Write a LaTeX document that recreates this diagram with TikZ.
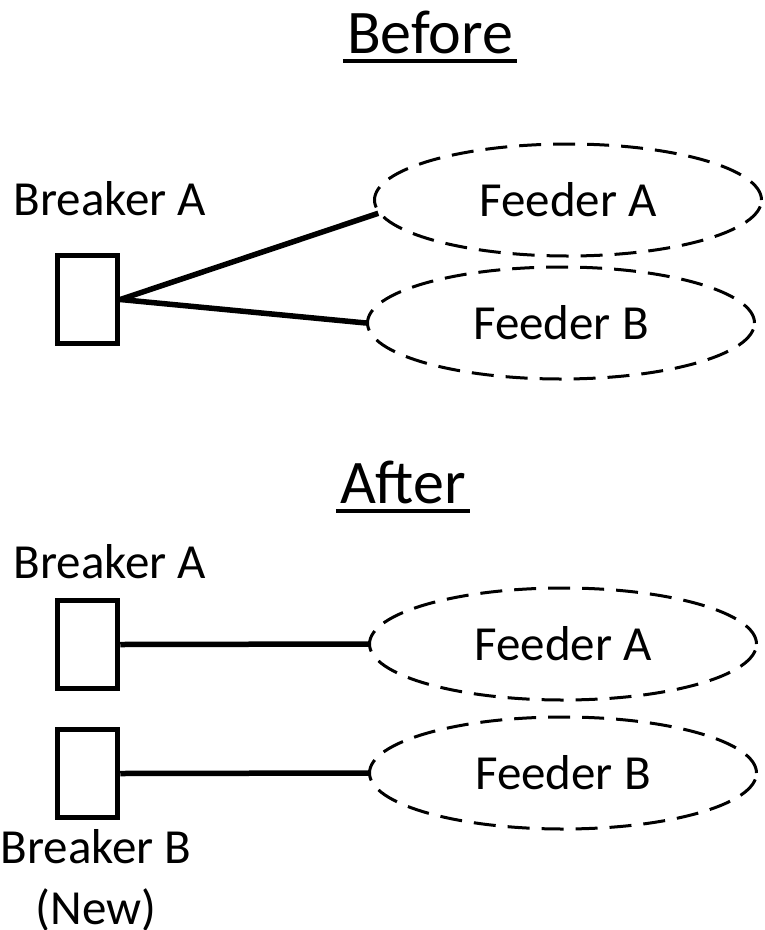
\documentclass[tikz,border=0pt]{standalone}
\usepackage{fontspec}
\setmainfont{Carlito}
\usetikzlibrary{shapes.geometric}

\begin{document}
\begin{tikzpicture}[x=1pt, y=-1pt]
  \tikzstyle{title} = [font=\fontsize{62}{74}\selectfont, inner sep=0pt, anchor=base]
  \tikzstyle{underl} = [line width=4pt]
  \tikzstyle{labeltext} = [font=\fontsize{49}{61}\selectfont, inner sep=0pt, anchor=base, align=center]
  \tikzstyle{breaker} = [draw, line width=5.5pt, minimum width=60pt, minimum height=88pt, inner sep=0pt]
  \tikzstyle{feeder} = [draw, ellipse, dash pattern=on 22pt off 12pt, line width=3pt,
  minimum width=387pt, minimum height=112pt, inner sep=0pt,
  font=\fontsize{49}{61}\selectfont]
  \tikzstyle{wire} = [line width=5.5pt]

  \useasboundingbox (0,0) rectangle (764,930);

% before
\node[title] (before) at (430,53) {Before};
\draw[underl] ([xshift=-4pt, yshift=-8pt]before.base west) -- ([xshift=4pt, yshift=-8pt]before.base east);
\node[labeltext] (brkA) at (110,215) {Breaker A};
\node[breaker] (boxA) at (87.5,299.5) {};
\node[feeder] (feedA) at (568,200) {Feeder A};
\node[feeder] (feedB) at (561,323) {Feeder B};

\draw[wire] (boxA.east) -- (feedA.184);
\draw[wire] (boxA.east) -- (feedB.west);

% after
\node[title] (after) at (403,503) {After};
\draw[underl] ([xshift=-4pt, yshift=-8pt]after.base west) -- ([xshift=4pt, yshift=-8pt]after.base east);
\node[labeltext] (brkA2) at (110,578) {Breaker A};
\node[breaker] (boxA2) at (87.5,644.5) {};
\node[breaker] (boxB2) at (87.5,773.5) {};
\node[feeder] (feedA2) at (563,644) {Feeder A};
\node[feeder] (feedB2) at (563,773) {Feeder B};
\node[labeltext, anchor=north] (brkB) at (96,829) {Breaker B\\(New)};

\draw[wire] (boxA2.east) -- (feedA2.west);
\draw[wire] (boxB2.east) -- (feedB2.west);

\end{tikzpicture}
\end{document}
